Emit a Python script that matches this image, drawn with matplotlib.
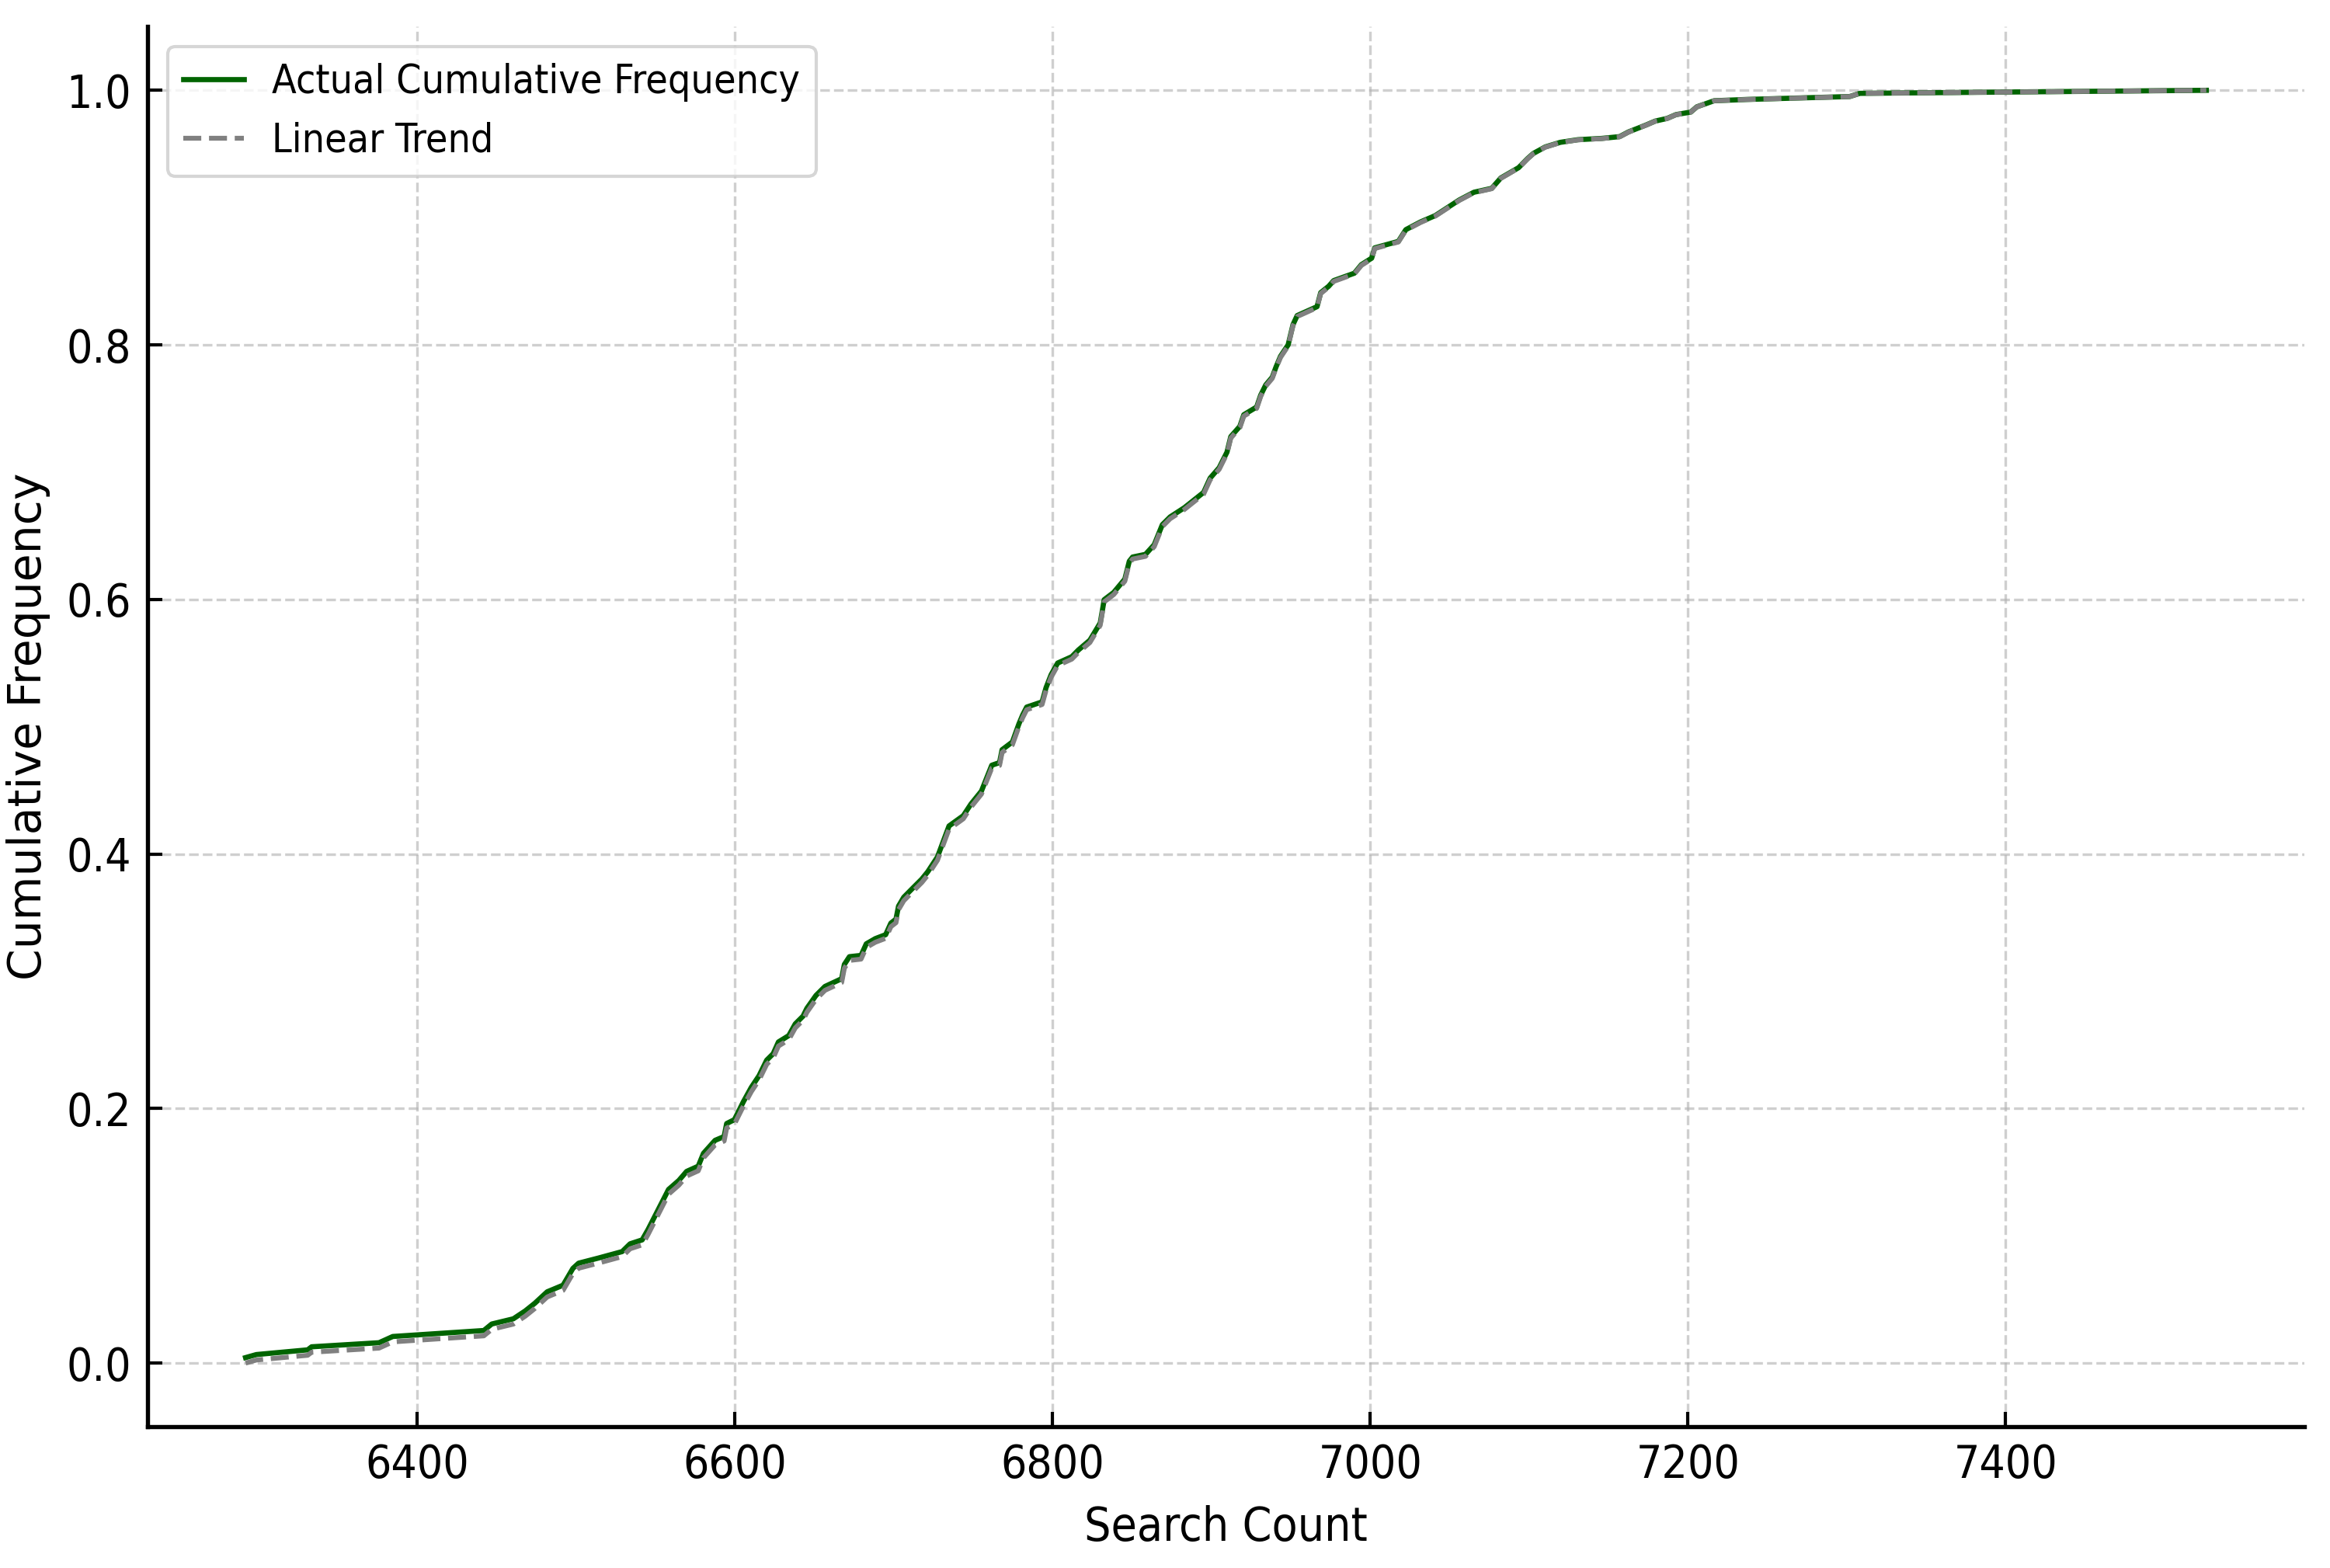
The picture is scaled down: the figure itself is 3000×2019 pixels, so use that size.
import numpy as np
import matplotlib
matplotlib.use("Agg")
import matplotlib.pyplot as plt

# Datos (recuento de búsquedas vs frecuencia acumulada)
search_count = [
    6291.9, 6298.7, 6331.0, 6333.5, 6375.9, 6384.6, 6441.9, 6446.9, 6460.5, 6468.0,
    6474.0, 6481.8, 6491.8, 6498.0, 6501.6, 6514.0, 6529.0, 6534.0, 6541.6, 6545.3,
    6551.5, 6558.2, 6564.7, 6569.6, 6576.9, 6580.2, 6587.5, 6593.2, 6594.8, 6599.7,
    6605.4, 6610.3, 6615.2, 6620.0, 6624.1, 6627.4, 6633.9, 6638.0, 6642.9, 6645.3,
    6651.0, 6656.7, 6667.2, 6668.9, 6672.1, 6679.4, 6682.7, 6688.4, 6694.9, 6698.2,
    6701.4, 6703.0, 6706.3, 6712.0, 6717.7, 6721.4, 6727.5, 6734.8, 6743.8, 6748.6,
    6755.2, 6761.7, 6766.6, 6768.2, 6774.7, 6778.8, 6781.2, 6783.7, 6793.4, 6795.9,
    6799.1, 6803.2, 6812.1, 6816.2, 6823.5, 6830.0, 6832.5, 6838.5, 6845.5, 6848.3,
    6850.4, 6858.5, 6864.0, 6869.1, 6874.0, 6882.9, 6895.1, 6899.2, 6904.9, 6909.8,
    6912.2, 6917.9, 6920.4, 6928.5, 6931.0, 6934.2, 6938.3, 6940.7, 6943.5, 6948.3,
    6951.4, 6954.0, 6966.5, 6968.8, 6973.8, 6977.0, 6990.0, 6994.4, 7000.9, 7002.8,
    7017.7, 7022.4, 7031.7, 7041.0, 7056.0, 7065.3, 7076.5, 7082.2, 7093.4, 7099.0,
    7102.7, 7110.2, 7119.6, 7130.8, 7145.7, 7157.0, 7162.6, 7173.8, 7179.4, 7186.9,
    7192.5, 7201.8, 7205.6, 7216.5, 7236.9, 7301.9, 7308.2, 7526.4,
]
cum_freq = [
    0.0043, 0.0067, 0.0104, 0.0128, 0.0160, 0.0209, 0.0256, 0.0307, 0.0348, 0.0410,
    0.0470, 0.0560, 0.0612, 0.0744, 0.0785, 0.0825, 0.0876, 0.0937, 0.0968, 0.1049,
    0.1201, 0.1364, 0.1435, 0.1506, 0.1547, 0.1648, 0.1750, 0.1780, 0.1882, 0.1913,
    0.2055, 0.2166, 0.2258, 0.2380, 0.2431, 0.2523, 0.2573, 0.2665, 0.2726, 0.2787,
    0.2888, 0.2959, 0.3020, 0.3132, 0.3193, 0.3203, 0.3294, 0.3335, 0.3366, 0.3457,
    0.3488, 0.3590, 0.3660, 0.3732, 0.3803, 0.3860, 0.3976, 0.4220, 0.4301, 0.4392,
    0.4494, 0.4697, 0.4718, 0.4819, 0.4880, 0.5022, 0.5093, 0.5154, 0.5195, 0.5307,
    0.5409, 0.5500, 0.5550, 0.5602, 0.5680, 0.5815, 0.5998, 0.6055, 0.6160, 0.6300,
    0.6333, 0.6354, 0.6430, 0.6587, 0.6648, 0.6720, 0.6841, 0.6953, 0.7035, 0.7157,
    0.7279, 0.7360, 0.7451, 0.7512, 0.7604, 0.7685, 0.7746, 0.7827, 0.7910, 0.8000,
    0.8160, 0.8230, 0.8300, 0.8410, 0.8460, 0.8505, 0.8563, 0.8630, 0.8681, 0.8762,
    0.8813, 0.8905, 0.8966, 0.9016, 0.9138, 0.9199, 0.9230, 0.9311, 0.9392, 0.9463,
    0.9504, 0.9555, 0.9591, 0.9612, 0.9622, 0.9636, 0.9673, 0.9728, 0.9758, 0.9779,
    0.9809, 0.9829, 0.9870, 0.9918, 0.9928, 0.9951, 0.9976, 1.0000,
]

x = np.array(search_count)
y = np.array(cum_freq)
# tendencia: misma curva reescalada para empezar en 0
y_trend = (y - y[0]) / (1 - y[0])

plt.rcParams['font.family'] = ['DejaVu Sans']
plt.rcParams['font.stretch'] = 'condensed'

fig = plt.figure(figsize=(10.003, 6.73), dpi=300)
ax = fig.add_axes([0.0633, 0.0901, 0.9254, 0.8929])

ax.plot(x, y, color='darkgreen', lw=1.6, label='Actual Cumulative Frequency')
ax.plot(x, y_trend, color='gray', lw=1.5, ls='--', label='Linear Trend')

ax.set_xlabel('Search Count', fontsize=14.5, labelpad=5.5)
ax.set_ylabel('Cumulative Frequency', fontsize=14, labelpad=5, fontstretch='normal')
ax.set_xticks([6400, 6600, 6800, 7000, 7200, 7400])
ax.set_yticks([0.0, 0.2, 0.4, 0.6, 0.8, 1.0])
ax.tick_params(direction='in', length=4.5, width=1, labelsize=14, pad=5)

ax.grid(True, linestyle='--', color='#b0b0b0', alpha=0.6, lw=0.8)
ax.spines['top'].set_visible(False)
ax.spines['right'].set_visible(False)
ax.spines['left'].set_linewidth(1.3)
ax.spines['bottom'].set_linewidth(1.3)

ax.legend(loc='upper left', fontsize=12.4, handlelength=1.5, handletextpad=0.7)

fig.savefig('out.png', dpi=300)
